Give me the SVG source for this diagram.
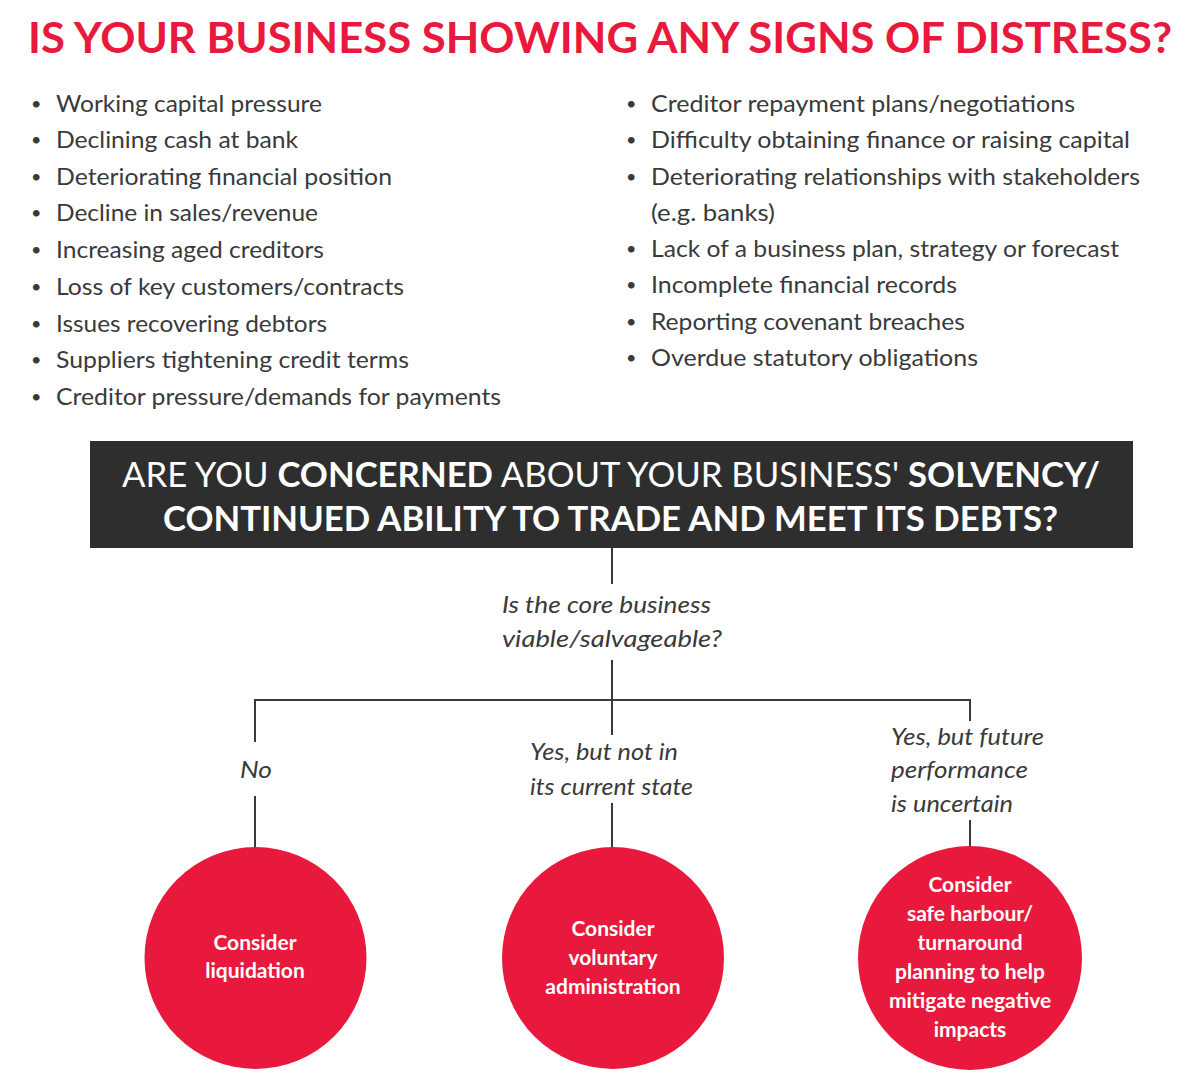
<svg xmlns="http://www.w3.org/2000/svg" width="1198" height="1091" viewBox="0 0 1198 1091">
<defs>
<style>
.title{font-family:Lato,"Open Sans","Liberation Sans",sans-serif;font-weight:700;font-size:42px;fill:#e8193c}
.b{font-family:Lato,"Open Sans","Liberation Sans",sans-serif;font-size:23px;fill:#3a3a3a}
.dot{font-family:Lato,"Liberation Sans",sans-serif;font-size:18px;fill:#3a3a3a}
.q{font-family:Lato,"Open Sans","Liberation Sans",sans-serif;font-size:35px;fill:#ffffff}
.bold{font-weight:700}
.it{font-family:Lato,"Open Sans","Liberation Sans",sans-serif;font-style:italic;font-size:23px;fill:#3a3a3a}
.ct{font-family:Lato,"Open Sans","Liberation Sans",sans-serif;font-weight:700;font-size:21px;fill:#ffffff;text-anchor:middle}
.circ{fill:#e8193c}
.conn{stroke:#3a3a3a;stroke-width:2;fill:none}
</style>
</defs>
<rect width="1198" height="1091" fill="#ffffff"/>

<g id="title">
<text class="title" x="28" y="53" textLength="1144" lengthAdjust="spacingAndGlyphs">IS YOUR BUSINESS SHOWING ANY SIGNS OF DISTRESS?</text>
</g>

<g id="signs-left">
<text class="dot" x="31" y="110">•</text><text class="b" x="56" y="112" textLength="266" lengthAdjust="spacingAndGlyphs">Working capital pressure</text>
<text class="dot" x="31" y="146">•</text><text class="b" x="56" y="148" textLength="242" lengthAdjust="spacingAndGlyphs">Declining cash at bank</text>
<text class="dot" x="31" y="183">•</text><text class="b" x="56" y="185" textLength="336" lengthAdjust="spacingAndGlyphs">Deteriorating financial position</text>
<text class="dot" x="31" y="219">•</text><text class="b" x="56" y="221" textLength="262" lengthAdjust="spacingAndGlyphs">Decline in sales/revenue</text>
<text class="dot" x="31" y="256">•</text><text class="b" x="56" y="258" textLength="268" lengthAdjust="spacingAndGlyphs">Increasing aged creditors</text>
<text class="dot" x="31" y="293">•</text><text class="b" x="56" y="295" textLength="348" lengthAdjust="spacingAndGlyphs">Loss of key customers/contracts</text>
<text class="dot" x="31" y="330">•</text><text class="b" x="56" y="332" textLength="271" lengthAdjust="spacingAndGlyphs">Issues recovering debtors</text>
<text class="dot" x="31" y="366">•</text><text class="b" x="56" y="368" textLength="353" lengthAdjust="spacingAndGlyphs">Suppliers tightening credit terms</text>
<text class="dot" x="31" y="403">•</text><text class="b" x="56" y="405" textLength="445" lengthAdjust="spacingAndGlyphs">Creditor pressure/demands for payments</text>
</g>

<g id="signs-right">
<text class="dot" x="626" y="110">•</text><text class="b" x="651" y="112" textLength="424" lengthAdjust="spacingAndGlyphs">Creditor repayment plans/negotiations</text>
<text class="dot" x="626" y="146">•</text><text class="b" x="651" y="148" textLength="479" lengthAdjust="spacingAndGlyphs">Difficulty obtaining finance or raising capital</text>
<text class="dot" x="626" y="183">•</text><text class="b" x="651" y="185" textLength="489" lengthAdjust="spacingAndGlyphs">Deteriorating relationships with stakeholders</text>
<text class="b" x="651" y="221" textLength="124" lengthAdjust="spacingAndGlyphs">(e.g. banks)</text>
<text class="dot" x="626" y="255">•</text><text class="b" x="651" y="257" textLength="468" lengthAdjust="spacingAndGlyphs">Lack of a business plan, strategy or forecast</text>
<text class="dot" x="626" y="291">•</text><text class="b" x="651" y="293" textLength="306" lengthAdjust="spacingAndGlyphs">Incomplete financial records</text>
<text class="dot" x="626" y="328">•</text><text class="b" x="651" y="330" textLength="314" lengthAdjust="spacingAndGlyphs">Reporting covenant breaches</text>
<text class="dot" x="626" y="364">•</text><text class="b" x="651" y="366" textLength="327" lengthAdjust="spacingAndGlyphs">Overdue statutory obligations</text>
</g>

<g id="question">
<rect x="90" y="441" width="1043" height="107" fill="#2e2e2e"/>
<text class="q" x="122" y="487" textLength="978" lengthAdjust="spacingAndGlyphs">ARE YOU <tspan class="bold">CONCERNED</tspan> ABOUT YOUR BUSINESS' <tspan class="bold">SOLVENCY/</tspan></text>
<text class="q bold" x="163" y="531" textLength="895" lengthAdjust="spacingAndGlyphs">CONTINUED ABILITY TO TRADE AND MEET ITS DEBTS?</text>
</g>

<g id="connectors">
<line class="conn" x1="612" y1="548" x2="612" y2="584"/>
<line class="conn" x1="612" y1="660" x2="612" y2="700"/>
<line class="conn" x1="255" y1="700" x2="971" y2="700"/>
<line class="conn" x1="255" y1="699" x2="255" y2="742"/>
<line class="conn" x1="612" y1="700" x2="612" y2="735"/>
<line class="conn" x1="970" y1="699" x2="970" y2="721"/>
<line class="conn" x1="255" y1="796" x2="255" y2="848"/>
<line class="conn" x1="612" y1="803" x2="612" y2="848"/>
<line class="conn" x1="970" y1="820" x2="970" y2="848"/>
</g>

<g id="viable-question">
<text class="it" x="502" y="613" textLength="209" lengthAdjust="spacingAndGlyphs">Is the core business</text>
<text class="it" x="502" y="647" textLength="220" lengthAdjust="spacingAndGlyphs">viable/salvageable?</text>
</g>

<g id="label-no">
<text class="it" x="240" y="778" textLength="32" lengthAdjust="spacingAndGlyphs">No</text>
</g>
<g id="label-not-current">
<text class="it" x="530" y="760" textLength="148" lengthAdjust="spacingAndGlyphs">Yes, but not in</text>
<text class="it" x="530" y="795" textLength="163" lengthAdjust="spacingAndGlyphs">its current state</text>
</g>
<g id="label-uncertain">
<text class="it" x="891" y="745" textLength="153" lengthAdjust="spacingAndGlyphs">Yes, but future</text>
<text class="it" x="891" y="778" textLength="137" lengthAdjust="spacingAndGlyphs">performance</text>
<text class="it" x="891" y="812" textLength="122" lengthAdjust="spacingAndGlyphs">is uncertain</text>
</g>

<g id="liquidation">
<circle class="circ" cx="255.5" cy="958" r="111"/>
<text class="ct" x="255" y="950">Consider</text>
<text class="ct" x="255" y="978">liquidation</text>
</g>

<g id="voluntary-administration">
<circle class="circ" cx="613" cy="958" r="111"/>
<text class="ct" x="613" y="936">Consider</text>
<text class="ct" x="613" y="965">voluntary</text>
<text class="ct" x="613" y="994">administration</text>
</g>

<g id="safe-harbour">
<circle class="circ" cx="970" cy="958" r="112"/>
<text class="ct" x="970" y="892">Consider</text>
<text class="ct" x="970" y="921">safe harbour/</text>
<text class="ct" x="970" y="950">turnaround</text>
<text class="ct" x="970" y="979">planning to help</text>
<text class="ct" x="970" y="1008">mitigate negative</text>
<text class="ct" x="970" y="1037">impacts</text>
</g>
</svg>
